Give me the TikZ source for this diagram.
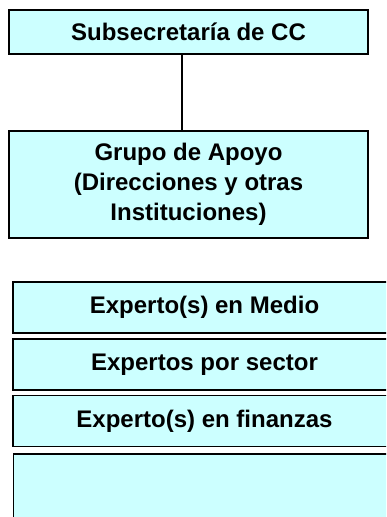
\documentclass[tikz,border=0pt]{standalone}
\usepackage{fontspec}
\setmainfont{Liberation Sans}
\usepackage{tikz}
\usetikzlibrary{positioning}
\definecolor{boxcyan}{HTML}{CCFFFF}
\tikzset{orgbox/.style = {draw, line width=0.8pt, fill=boxcyan, inner sep=0pt,
                          align=center, font=\fontsize{12}{15}\selectfont\bfseries},
         topbox/.style = {orgbox, minimum width=179.5pt},
         listbox/.style = {orgbox, minimum width=191.5pt, minimum height=25.5pt}}

\begin{document}
\begin{tikzpicture}[x=0.5pt, y=-0.5pt]
  \useasboundingbox (0,0) rectangle (386,517);
  \clip (0,0) rectangle (386,517);

  \node[topbox, minimum height=22pt] (sub) at (188.5, 32) {Subsecretaría de CC};
  \node[topbox, minimum height=53.5pt] (grupo) at (188.5, 184.5)
       {Grupo de Apoyo\\(Direcciones y otras\\Instituciones)};
  \draw[line width=0.8pt] ([xshift=-3.25pt]sub.south) -- ([xshift=-3.25pt]grupo.north);

  \node[listbox] (medio) at (204.5, 307.5) {Experto(s) en Medio};
  \node[listbox] (sector) at (204.5, 364.5) {Expertos por sector};
  \node[listbox] (finanzas) at (204.5, 421) {Experto(s) en finanzas};
  \node[listbox, minimum height=52pt] (otros) at (205, 506) {};
\end{tikzpicture}
\end{document}
